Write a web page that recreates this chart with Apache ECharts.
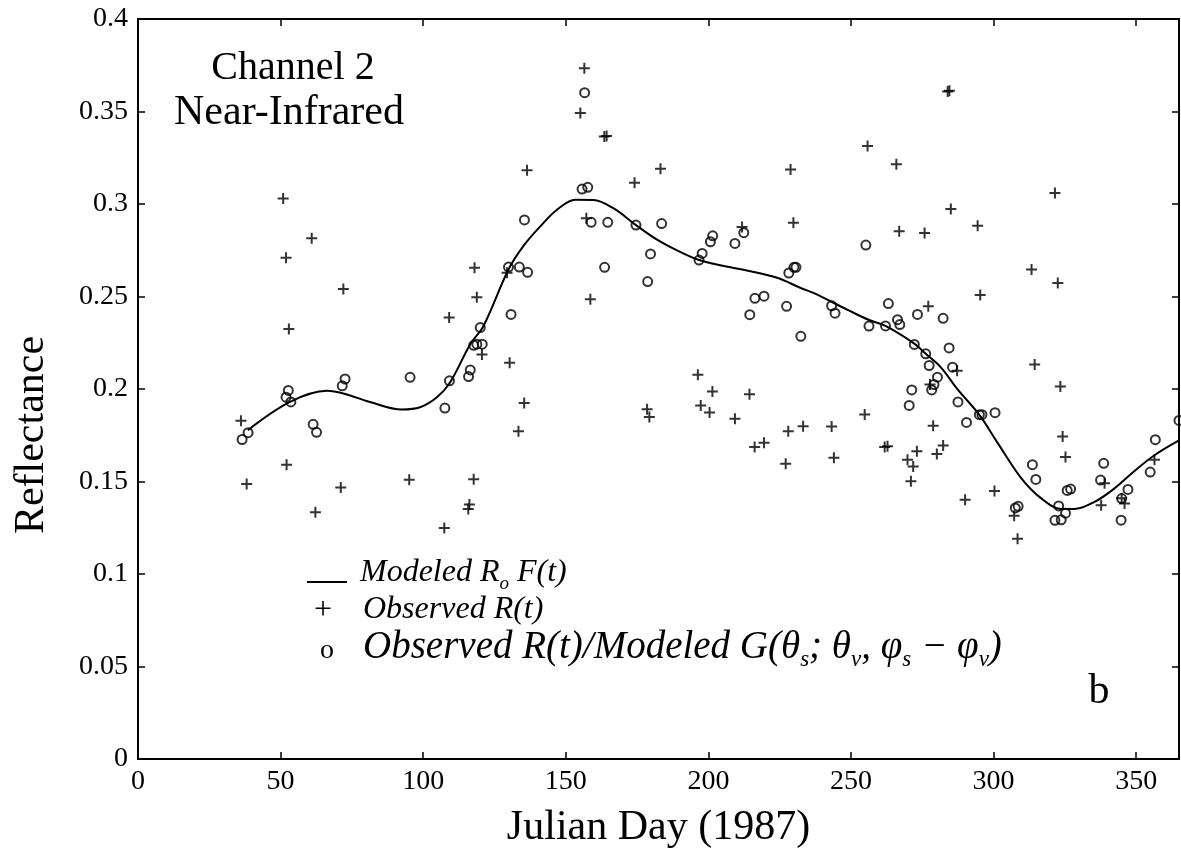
<!DOCTYPE html>
<html>
<head>
<meta charset="utf-8">
<script src="https://cdn.jsdelivr.net/npm/echarts@6/dist/echarts.min.js"></script>
<style>
  html, body { margin: 0; padding: 0; background: #fff; }
  #chart { width: 1181px; height: 860px; }
</style>
</head>
<body>
<div id="chart"></div>
<script>
// Channel 2 (near-infrared) reflectance through 1987

// Observed R(t): day and reflectance
const obsDay = [
  50.9, 60.9, 51.9, 72.0, 52.9, 118.0, 118.8, 109.1, 36.1, 52.1,
  38.1, 71.1, 62.2, 95.1, 117.7, 116.2, 115.8, 107.4, 156.5, 155.1,
  163.5, 164.3, 136.4, 174.1, 183.2, 228.8, 229.8, 157.2, 211.8, 129.4,
  158.6, 120.6, 130.3, 135.4, 133.4, 196.3, 201.4, 197.3, 200.4, 178.5,
  179.3, 214.4, 209.3, 228.0, 216.2, 219.5, 227.1, 283.9, 284.5, 255.8,
  265.9, 321.5, 285.0, 266.9, 275.8, 294.4, 313.3, 322.5, 295.3, 277.1,
  314.4, 323.4, 287.2, 277.7, 254.8, 233.2, 243.2, 278.8, 261.8, 262.8,
  273.1, 282.3, 280.1, 244.0, 269.8, 271.8, 324.2, 325.2, 356.4, 271.0,
  290.0, 300.3, 307.2, 308.4, 337.7, 338.9, 345.9, 344.9
];
const obsRefl = [
  0.303, 0.2815, 0.271, 0.254, 0.2325, 0.2655, 0.2496, 0.2387, 0.1829, 0.159,
  0.1487, 0.1468, 0.1334, 0.151, 0.1512, 0.1376, 0.1351, 0.1248, 0.3734, 0.3492,
  0.3365, 0.3367, 0.3182, 0.3115, 0.3191, 0.3186, 0.2898, 0.2923, 0.2876, 0.2628,
  0.2485, 0.2187, 0.2142, 0.1924, 0.1772, 0.2077, 0.1986, 0.1911, 0.1873, 0.189,
  0.1848, 0.1971, 0.1839, 0.1771, 0.1687, 0.1709, 0.1596, 0.3608, 0.3612, 0.3314,
  0.3215, 0.306, 0.2973, 0.2853, 0.2843, 0.2883, 0.2646, 0.2573, 0.2508, 0.2447,
  0.2132, 0.2014, 0.2099, 0.2024, 0.1862, 0.1798, 0.1797, 0.1802, 0.1687, 0.169,
  0.1664, 0.1694, 0.1649, 0.1629, 0.1617, 0.1581, 0.1743, 0.1632, 0.1618, 0.1501,
  0.1401, 0.1449, 0.1315, 0.1191, 0.1372, 0.149, 0.1381, 0.1409
];

// Observed R(t) divided by modeled G(θs; θv, φs−φv)
const normDay = [
  36.5, 38.6, 52.7, 51.9, 53.6, 61.4, 62.6, 72.6, 71.6, 95.4,
  107.6, 109.2, 115.9, 116.5, 117.7, 118.8, 120.7, 120.0, 129.9, 133.7,
  136.6, 130.8, 135.5, 156.6, 155.7, 157.7, 158.9, 164.7, 174.6, 183.6,
  163.6, 179.7, 178.7, 197.8, 196.7, 200.7, 201.5, 209.3, 212.4, 219.5,
  216.3, 214.5, 227.4, 228.2, 230.0, 230.7, 232.4, 255.2, 243.2, 244.4,
  256.3, 262.1, 263.1, 266.3, 267.1, 273.3, 282.3, 272.2, 276.2, 284.4,
  277.4, 285.6, 280.3, 279.1, 278.3, 271.3, 270.4, 287.5, 290.5, 295.0,
  295.9, 300.5, 313.6, 314.8, 338.6, 337.5, 356.7, 354.9, 365.0, 307.6,
  308.6, 322.8, 321.5, 323.7, 325.2, 325.8, 327.0, 347.1, 344.9, 344.7
];
const normRefl = [
  0.1727, 0.1764, 0.1992, 0.1956, 0.193, 0.1809, 0.1766, 0.2054, 0.2017, 0.2063,
  0.1897, 0.2044, 0.2067, 0.2103, 0.2236, 0.2242, 0.2242, 0.2332, 0.2659, 0.2659,
  0.2631, 0.2403, 0.2914, 0.3602, 0.3081, 0.309, 0.2901, 0.2901, 0.2886, 0.2894,
  0.2658, 0.273, 0.2581, 0.2733, 0.2697, 0.2796, 0.2828, 0.2787, 0.2845, 0.2502,
  0.249, 0.2402, 0.2447, 0.2627, 0.2658, 0.2658, 0.2285, 0.2778, 0.245, 0.241,
  0.234, 0.2341, 0.2462, 0.2375, 0.2348, 0.2403, 0.2382, 0.2241, 0.219, 0.2222,
  0.2127, 0.2118, 0.2064, 0.2024, 0.1995, 0.1995, 0.1911, 0.193, 0.1819, 0.1861,
  0.1861, 0.1872, 0.1591, 0.1511, 0.1598, 0.1508, 0.1726, 0.1551, 0.183, 0.1357,
  0.1366, 0.1368, 0.129, 0.1293, 0.1329, 0.1452, 0.1459, 0.1457, 0.1408, 0.1291
];

// Modeled R0·F(t)
const modelDay = [
  38.5, 53.3, 66.2, 72.0, 81.3, 92.5, 98.9, 104.8, 109.4, 116.5,
  121.1, 129.9, 135.1, 141.1, 146.9, 153.3, 159.7, 166.8, 174.6, 182.0,
  189.0, 196.7, 205.4, 214.8, 224.1, 232.4, 237.0, 248.8, 256.3, 262.1,
  272.2, 276.2, 281.5, 287.3, 295.0, 301.4, 309.6, 316.6, 323.7, 328.3,
  335.4, 342.4, 349.4, 356.4, 365.0
];
const modelRefl = [
  0.1777, 0.193, 0.199, 0.1976, 0.193, 0.1889, 0.1901, 0.1955, 0.2035, 0.2242,
  0.234, 0.2646, 0.2772, 0.288, 0.2969, 0.3023, 0.3022, 0.2976, 0.2886, 0.2807,
  0.2749, 0.2697, 0.2665, 0.2637, 0.2601, 0.2546, 0.2518, 0.2428, 0.2373, 0.2341,
  0.2245, 0.219, 0.2117, 0.1999, 0.186, 0.1709, 0.152, 0.141, 0.1351, 0.1351,
  0.139, 0.1463, 0.1557, 0.1642, 0.1722
];

const xMin = 0, xMax = 365, xStep = 50;
const yMin = 0, yMax = 0.4, yStep = 0.05;

const zip = (xs, ys) => xs.map((x, i) => [x, ys[i]]);

const SERIF = '"Liberation Serif", "DejaVu Serif", serif';
const INK = '#000';

const axisCommon = {
  type: 'value',
  splitLine: { show: false },
  axisLine: { show: true, onZero: false, lineStyle: { color: INK, width: 2 } },
  axisTick: { show: true, inside: true, length: 7, lineStyle: { color: INK, width: 1.5 } }
};

const chart = echarts.init(document.getElementById('chart'), null, { renderer: 'canvas' });

// rich-text styles for the key: upright-ish italic serif with lowered subscripts
const keyRich = (size) => ({
  t: { fontFamily: SERIF, fontStyle: 'italic', fontSize: size, lineHeight: size + 8, fill: INK },
  s: { fontFamily: SERIF, fontStyle: 'italic', fontSize: Math.round(size * 0.6), lineHeight: Math.round(size * 0.8), verticalAlign: 'bottom', fill: INK }
});

chart.setOption({
  animation: false,
  backgroundColor: '#fff',
  grid: { left: 138, right: 2, top: 19, bottom: 101, containLabel: false },
  xAxis: [
    Object.assign({}, axisCommon, {
      position: 'bottom', min: xMin, max: xMax, interval: xStep,
      name: 'Julian Day (1987)', nameLocation: 'middle', nameGap: 48,
      nameTextStyle: { fontFamily: SERIF, fontSize: 42, color: INK },
      axisLabel: {
        show: true, margin: 9, color: INK, fontFamily: SERIF, fontSize: 28,
        showMaxLabel: false,
        formatter: v => (v % xStep === 0 ? String(v) : '')
      }
    }),
    Object.assign({}, axisCommon, {
      position: 'top', min: xMin, max: xMax, interval: xStep,
      axisLabel: { show: false }
    })
  ],
  yAxis: [
    Object.assign({}, axisCommon, {
      position: 'left', min: yMin, max: yMax, interval: yStep,
      axisLabel: { show: true, margin: 10, color: INK, fontFamily: SERIF, fontSize: 28 }
    }),
    Object.assign({}, axisCommon, {
      position: 'right', min: yMin, max: yMax, interval: yStep,
      axisLabel: { show: false }
    })
  ],
  series: [
    {
      name: 'Modeled R0F(t)',
      type: 'line',
      xAxisIndex: 0, yAxisIndex: 0,
      data: zip(modelDay, modelRefl),
      smooth: 0.35,
      showSymbol: false,
      symbol: 'none',
      lineStyle: { color: INK, width: 2 },
      z: 3
    },
    {
      name: 'Observed R(t)',
      type: 'scatter',
      xAxisIndex: 0, yAxisIndex: 0,
      data: zip(obsDay, obsRefl),
      symbol: 'path://M5,0L5,10M0,5L10,5',
      symbolSize: 11,
      itemStyle: { color: 'rgba(0,0,0,0)', borderColor: INK, borderWidth: 2 },
      z: 4
    },
    {
      name: 'Observed R(t)/Modeled G',
      type: 'scatter',
      xAxisIndex: 0, yAxisIndex: 0,
      data: zip(normDay, normRefl),
      symbol: 'circle',
      symbolSize: 9,
      itemStyle: { color: 'rgba(0,0,0,0)', borderColor: INK, borderWidth: 2 },
      z: 5
    }
  ],
  graphic: [
    // y-axis title
    { type: 'text', x: 32, y: 435, rotation: Math.PI / 2,
      style: { text: 'Reflectance', font: '42px ' + SERIF, fill: INK, align: 'center', verticalAlign: 'middle' } },
    // panel heading
    { type: 'text', x: 293, y: 68, style: { text: 'Channel 2', font: '40px ' + SERIF, fill: INK, align: 'center', verticalAlign: 'middle' } },
    { type: 'text', x: 289, y: 113, style: { text: 'Near-Infrared', font: '42px ' + SERIF, fill: INK, align: 'center', verticalAlign: 'middle' } },
    // panel letter
    { type: 'text', x: 1099, y: 692, style: { text: 'b', font: '42px ' + SERIF, fill: INK, align: 'center', verticalAlign: 'middle' } },
    // key
    { type: 'line', shape: { x1: 307, y1: 582, x2: 347, y2: 582 }, style: { stroke: INK, lineWidth: 2 } },
    { type: 'text', x: 323, y: 611, style: { text: '+', font: '32px ' + SERIF, fill: INK, align: 'center', verticalAlign: 'middle' } },
    { type: 'text', x: 327, y: 651, style: { text: 'o', font: '28px ' + SERIF, fill: INK, align: 'center', verticalAlign: 'middle' } },
    {
      type: 'text', x: 360, y: 573,
      style: {
        text: '{t|Modeled R}{s|o}{t| F(t)}',
        align: 'left', verticalAlign: 'middle', fill: INK,
        rich: keyRich(32)
      }
    },
    {
      type: 'text', x: 363, y: 610,
      style: {
        text: '{t|Observed R(t)}',
        align: 'left', verticalAlign: 'middle', fill: INK,
        rich: keyRich(32)
      }
    },
    {
      type: 'text', x: 363, y: 648,
      style: {
        text: '{t|Observed R(t)/Modeled G(θ}{s|s}{t|; θ}{s|v}{t|, φ}{s|s}{t| − φ}{s|v}{t|)}',
        align: 'left', verticalAlign: 'middle', fill: INK,
        rich: keyRich(39)
      }
    }
  ]
});
</script>
</body>
</html>
